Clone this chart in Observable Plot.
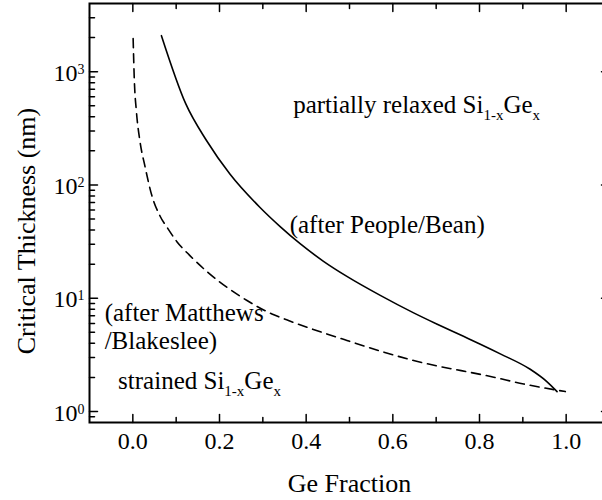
<!DOCTYPE html>
<html>
<head>
<meta charset="utf-8">
<script src="https://cdn.jsdelivr.net/npm/d3@7"></script>
<script src="https://cdn.jsdelivr.net/npm/@observablehq/plot@0.6"></script>
<style>
  html, body { margin: 0; padding: 0; background: white; overflow: hidden; font-family: "Liberation Serif"; }
  #chart svg { overflow: hidden; background: white; }
</style>
</head>
<body>
<div id="chart"></div>
<script>
// Critical thickness of strained Si(1-x)Ge(x) layers versus Ge fraction
const SERIF = "Liberation Serif";

// People/Bean (energy balance) curve
const peopleBeanX = [0.066, 0.122, 0.17, 0.224, 0.293, 0.34, 0.386, 0.44, 0.494, 0.571, 0.648, 0.70, 0.763, 0.802, 0.848, 0.917, 0.956, 0.979];
const peopleBeanT = [2080, 522, 247, 125, 63.6, 42.9, 30.3, 21.2, 15.6, 10.6, 7.43, 5.96, 4.61, 3.93, 3.23, 2.36, 1.83, 1.50];

// Matthews/Blakeslee (mechanical equilibrium) curve
const matthewsX = [0.0007, 0.0035, 0.0081, 0.0162, 0.0277, 0.0439, 0.0624, 0.0809, 0.1017, 0.1317, 0.171, 0.2635, 0.321, 0.355, 0.494, 0.648, 0.833, 0.902, 0.998];
const matthewsT = [1960, 834, 453, 246, 148, 80.6, 53.5, 41.2, 31.6, 23.8, 17.2, 9.55, 7.26, 6.45, 4.24, 2.82, 2.01, 1.75, 1.50];

// Axis ticks
const xMajorTicks = [0.0, 0.2, 0.4, 0.6, 0.8, 1.0];
const xMinorTicks = [0.1, 0.3, 0.5, 0.7, 0.9];
const yDecades = [1, 10, 100, 1000];
const yMinorTicks = [0.9, 2, 3, 4, 5, 6, 7, 8, 9, 20, 30, 40, 50, 60, 70, 80, 90,
                     200, 300, 400, 500, 600, 700, 800, 900, 2000, 3000];

// Region and model labels ("_{}" marks a subscript)
const labels = [
  {text: "partially relaxed Si_{1-x}Ge_{x}", x: 0.37, y: 435},
  {text: "(after People/Bean)", x: 0.362, y: 38},
  {text: "(after Matthews", x: -0.065, y: 6.27},
  {text: "/Blakeslee)", x: -0.065, y: 3.57},
  {text: "strained Si_{1-x}Ge_{x}", x: -0.034, y: 1.586}
];

const peopleBean = peopleBeanX.map((x, i) => ({x, t: peopleBeanT[i]}));
const matthews = matthewsX.map((x, i) => ({x, t: matthewsT[i]}));

// a plain straight tick, drawn from the anchor point along the vector direction
const tickShape = {draw(context, l) { context.moveTo(0, 0); context.lineTo(0, -l); }};
const MAJOR = 8, MINOR = 5;

function ticksX(values, length) {
  return [
    Plot.vector(values, {x: d => d, frameAnchor: "bottom", rotate: 0, length, anchor: "start", shape: tickShape, strokeWidth: 1.5}),
    Plot.vector(values, {x: d => d, frameAnchor: "top", rotate: 180, length, anchor: "start", shape: tickShape, strokeWidth: 1.5})
  ];
}
function ticksY(values, length) {
  return [
    Plot.vector(values, {y: d => d, frameAnchor: "left", rotate: 90, length, anchor: "start", shape: tickShape, strokeWidth: 1.5}),
    Plot.vector(values, {y: d => d, frameAnchor: "right", rotate: -90, length, anchor: "start", shape: tickShape, strokeWidth: 1.5})
  ];
}

const chart = Plot.plot({
  width: 602,
  height: 500,
  marginLeft: 89,
  marginRight: -7,
  marginTop: 3,
  marginBottom: 78,
  style: {fontFamily: SERIF, background: "white", color: "black"},
  x: {domain: [-0.1, 1.1], axis: null},
  y: {type: "log", domain: [0.8, 4000], axis: null},
  marks: [
    Plot.line(matthews, {x: "x", y: "t", curve: "monotone-x", stroke: "black", strokeWidth: 1.6, strokeDasharray: "9,6"}),
    Plot.line(peopleBean, {x: "x", y: "t", curve: "monotone-x", stroke: "black", strokeWidth: 1.6}),
    ...ticksX(xMajorTicks, MAJOR),
    ...ticksX(xMinorTicks, MINOR),
    ...ticksY(yDecades, MAJOR),
    ...ticksY(yMinorTicks, MINOR),
    Plot.frame({stroke: "black", strokeWidth: 2}),
    Plot.text(xMajorTicks, {x: d => d, text: d => d.toFixed(1), frameAnchor: "bottom", lineAnchor: "top", dy: 9, fontSize: 24, fontFamily: SERIF, fill: "black"}),
    Plot.text(yDecades, {y: d => d, text: d => `10^{${Math.round(Math.log10(d))}}`, frameAnchor: "left", textAnchor: "end", lineAnchor: "bottom", dx: -5, dy: 9, fontSize: 24, fontFamily: SERIF, fill: "black"}),
    Plot.text(["Ge Fraction"], {frameAnchor: "bottom", textAnchor: "middle", lineAnchor: "bottom", dy: 69, fontSize: 26, fontFamily: SERIF, fill: "black"}),
    Plot.text(["Critical Thickness (nm)"], {frameAnchor: "left", rotate: -90, textAnchor: "middle", lineAnchor: "bottom", dx: -55, dy: 18, fontSize: 26, fontFamily: SERIF, fill: "black"}),
    Plot.text(labels, {x: "x", y: "y", text: "text", textAnchor: "start", lineAnchor: "bottom", fontSize: 25, fontFamily: SERIF, fill: "black"})
  ]
});

// Turn "_{...}" and "^{...}" runs into lowered / raised tspans, and pin the serif face on every text
function applyScripts(svg) {
  const ns = "http://www.w3.org/2000/svg";
  svg.setAttribute("font-family", SERIF);
  svg.querySelectorAll("text").forEach(t => {
    t.setAttribute("font-family", SERIF);
    const s = t.textContent;
    if (!/[_^]\{/.test(s)) return;
    const parts = s.split(/([_^])\{([^}]*)\}/);
    t.textContent = "";
    let offset = 0;
    const add = (str, size, target) => {
      if (!str) return;
      const ts = document.createElementNS(ns, "tspan");
      const d = target - offset;
      if (d) ts.setAttribute("dy", d);
      if (size) ts.setAttribute("font-size", size);
      ts.textContent = str;
      t.appendChild(ts);
      offset = target;
    };
    for (let i = 0; i < parts.length; i += 3) {
      add(parts[i], null, 0);
      if (i + 2 < parts.length) {
        const sub = parts[i + 1] === "_";
        add(parts[i + 2], sub ? 15 : 14, sub ? 7 : -7);
      }
    }
  });
}
applyScripts(chart);

document.getElementById("chart").appendChild(chart);
</script>
</body>
</html>
